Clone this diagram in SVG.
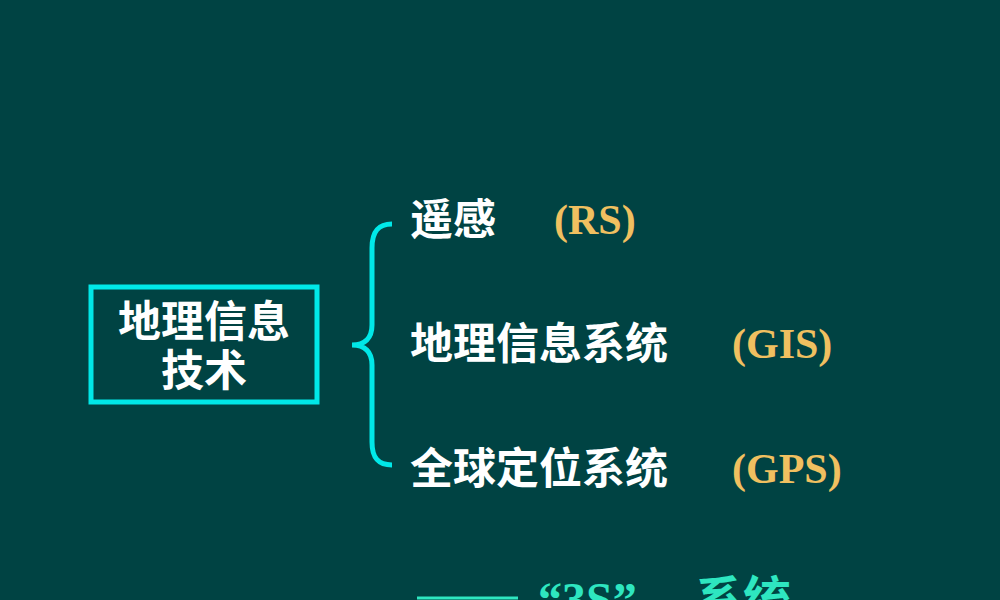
<svg xmlns="http://www.w3.org/2000/svg" width="1000" height="600" viewBox="0 0 1000 600">
<style>
.w{fill:#fff;font-family:"Liberation Sans","Noto Sans CJK SC",sans-serif;font-weight:bold;font-size:43px}
.y{fill:#f0c060;font-family:"Liberation Serif",serif;font-weight:bold;font-size:42px}
.g{fill:#2ee6c0;font-family:"Liberation Serif","Noto Sans CJK SC",serif;font-weight:bold;font-size:48px}
</style>
<rect width="1000" height="600" fill="#004343"/>
<g id="root">
<rect x="91" y="287" width="226" height="115" fill="none" stroke="#00e8e8" stroke-width="5"/>
<text class="w" x="204" y="337" text-anchor="middle">地理信息</text>
<text class="w" x="204" y="386" text-anchor="middle">技术</text>
</g>
<g id="connectors">
<path d="M392,224 C378,224 372,232 372,248 L372,325 C372,338 365,345 352,345 C365,345 372,352 372,365 L372,442 C372,458 378,465 392,465" fill="none" stroke="#00e8e8" stroke-width="5"/>
</g>
<g id="rs"><text class="w" x="410" y="235">遥感</text><text class="y" x="554" y="234">(RS)</text></g>
<g id="gis"><text class="w" x="410" y="359">地理信息系统</text><text class="y" x="732" y="358">(GIS)</text></g>
<g id="gps"><text class="w" x="410" y="484">全球定位系统</text><text class="y" x="732" y="483">(GPS)</text></g>
<g id="bottom">
<line x1="417" y1="598" x2="518" y2="598" stroke="#2ee6c0" stroke-width="3"/>
<text class="g" x="538" y="616">“3S”<tspan x="695">系统</tspan></text>
</g>
</svg>
